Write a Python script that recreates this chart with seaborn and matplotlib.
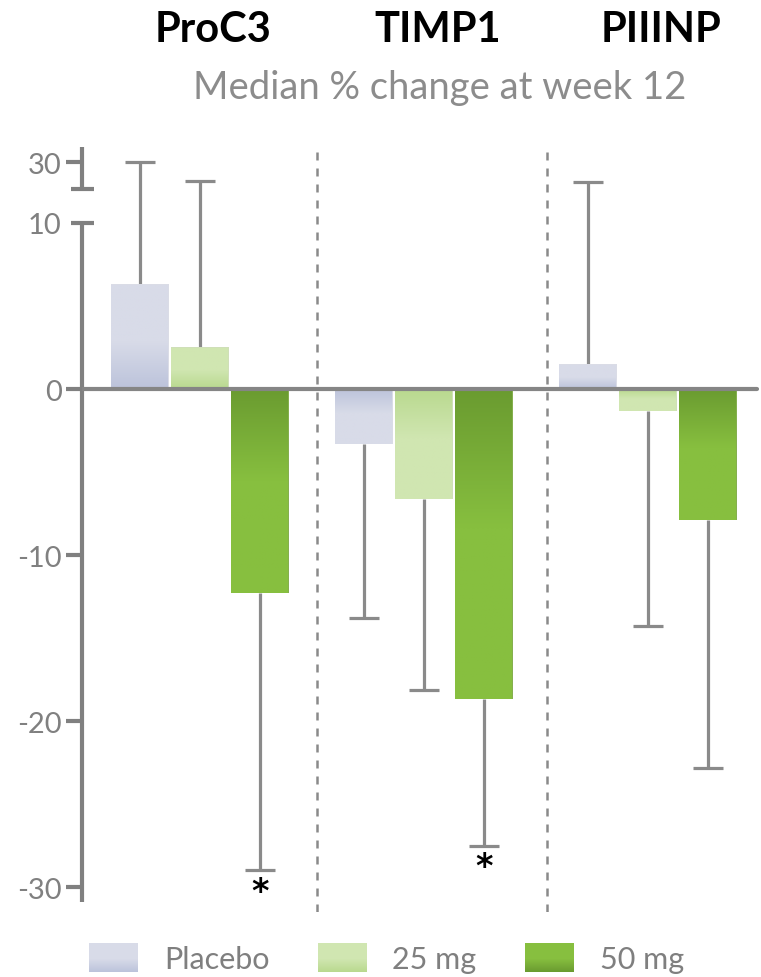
import numpy as np
import pandas as pd
import matplotlib
matplotlib.use("Agg")
import matplotlib.pyplot as plt
import matplotlib.transforms as mtransforms
from matplotlib.patches import Rectangle
from matplotlib.legend_handler import HandlerBase
from matplotlib.colors import to_rgb
import seaborn as sns

# ---- data -------------------------------------------------------------
markers = ["ProC3", "TIMP1", "PIIINP"]
doses = ["Placebo", "25 mg", "50 mg"]
# median % change at week 12 (rows: marker, columns: dose)
median_change = [
    [6.3, 2.5, -12.3],
    [-3.3, -6.6, -18.7],
    [1.5, -1.3, -7.9],
]
# outer end of the error bar for each bar
whisker_end = [
    [30.0, 28.9, -29.0],
    [-13.8, -18.1, -27.5],
    [28.8, -14.3, -22.8],
]
significant = [
    [False, False, True],
    [False, False, True],
    [False, False, False],
]
y_ticks = [-30, -20, -10, 0, 10, 30]
y_tick_labels = ["-30", "-20", "-10", "0", "10", "30"]

# ---- styling ----------------------------------------------------------
dark_colors = {"Placebo": "#bcc3db", "25 mg": "#b9d98f", "50 mg": "#6a9b30"}
light_colors = {"Placebo": "#d8dbe8", "25 mg": "#d0e6b1", "50 mg": "#87bf3f"}
GRAY = "#808080"
FONT = "Lato"

sns.set_theme(style="white")
plt.rcParams["font.family"] = [FONT, "DejaVu Sans"]

df = pd.DataFrame(
    [
        {"marker": m, "dose": d, "median": median_change[i][j],
         "whisker": whisker_end[i][j], "sig": significant[i][j]}
        for i, m in enumerate(markers) for j, d in enumerate(doses)
    ]
)

W, H = 761, 978
fig = plt.figure(figsize=(W / 100, H / 100), dpi=100)
ax = fig.add_axes([82 / W, 65 / H, 678 / W, 773 / H])

sns.barplot(
    data=df, x="marker", y="median", hue="dose", order=markers,
    hue_order=doses, palette=light_colors, errorbar=None, width=0.8,
    gap=0.03, legend=False, ax=ax, zorder=3, linewidth=0,
)

# ---- broken y scale: 10 .. 28.4 is compressed into a short gap ----------
LO, HI = 10.0, 28.4
GAP = 2.048
C = GAP / (HI - LO)


def forward(v):
    v = np.asarray(v, dtype=float)
    return np.where(v <= LO, v,
                    np.where(v < HI, LO + (v - LO) * C, LO + GAP + (v - HI)))


def inverse(d):
    d = np.asarray(d, dtype=float)
    return np.where(d <= LO, d,
                    np.where(d < LO + GAP, LO + (d - LO) / C, HI + (d - LO - GAP)))


ax.set_yscale("function", functions=(forward, inverse))
ax.set_xlim(-0.527, 2.5)
ax.set_ylim(-31.5, 31.41)


# ---- gradient fill for bars ------------------------------------------
def gradient_rgba(dose, n, reach=0.45):
    c0 = np.array(to_rgb(dark_colors[dose]))
    c1 = np.array(to_rgb(light_colors[dose]))
    t = np.clip(np.linspace(0, 1, n) / reach, 0, 1)
    return c0[None, :] + (c1 - c0)[None, :] * t[:, None]


patches = sorted(ax.patches, key=lambda p: p.get_x())
rows = df.sort_values(
    by=["marker", "dose"],
    key=lambda s: s.map({m: i for i, m in enumerate(markers)}) if s.name == "marker"
    else s.map({d: i for i, d in enumerate(doses)}),
).reset_index(drop=True)

cap_half = 0.067
for patch, (_, row) in zip(patches, rows.iterrows()):
    x0 = patch.get_x()
    w = patch.get_width()
    xc = x0 + w / 2
    val = row["median"]
    cols = gradient_rgba(row["dose"], 200)
    # index 0 sits on the zero line
    img = cols[:, None, :]
    if val >= 0:
        img = img[::-1]
        extent = [x0, x0 + w, 0, val]
    else:
        extent = [x0, x0 + w, val, 0]
    im = ax.imshow(img, extent=extent, origin="upper", aspect="auto",
                   interpolation="bilinear", zorder=3.5)
    im.set_clip_path(patch)

    # one-sided error bar, drawn outward from the bar end
    wend = row["whisker"]
    ax.vlines(xc, val, wend, color="#8a8a8a", lw=2.3, zorder=2)
    ax.hlines(wend, xc - cap_half, xc + cap_half, color="#8a8a8a", lw=2.3, zorder=2)
    if row["sig"]:
        ax.annotate("*", (xc, wend), xytext=(0, -3.5), textcoords="offset points",
                    ha="center", va="top", fontsize=24, color="black",
                    family="DejaVu Sans", fontweight="bold")

# zero line across the panel
ax.axhline(0, xmin=0, xmax=0.995, color="#858585", lw=3, zorder=5)

# group separators
for xs in [0.52, 1.55]:
    ax.vlines(xs, -31.5, 31.1, color="#8a8a8a", lw=1.8,
              linestyles=(0, (3.2, 3.2)), zorder=1)

# ---- axis -------------------------------------------------------------
for side in ["top", "right", "bottom"]:
    ax.spines[side].set_visible(False)
ax.spines["left"].set_color(GRAY)
ax.spines["left"].set_linewidth(3)
ax.spines["left"].set_bounds(-30.9, 10)
ax.spines["left"].set_capstyle("butt")

ax.set_xticks([])
ax.set_xlabel("")
ax.set_ylabel("")
ax.set_yticks(y_ticks)
ax.set_yticklabels(y_tick_labels)
ax.tick_params(axis="y", direction="out", length=11.5, width=3, color=GRAY,
               labelcolor=GRAY, labelsize=21, pad=3, left=True)
for t, v in zip(ax.yaxis.get_major_ticks(), y_ticks):
    if v == 10:
        t.tick1line.set_visible(False)

trans = mtransforms.blended_transform_factory(ax.transAxes, ax.transData)
# upper axis segment above the break
ax.plot([0, 0], [HI, 30.93], transform=trans, color=GRAY, lw=3,
        clip_on=False, solid_capstyle="butt", zorder=6)
# caps on both sides of the break
for yv in [LO, HI]:
    ax.plot([-0.0162, 0.0177], [yv, yv], transform=trans, color=GRAY, lw=3,
            clip_on=False, solid_capstyle="butt", zorder=6)

# ---- titles -----------------------------------------------------------
ttrans = mtransforms.blended_transform_factory(ax.transData, fig.transFigure)
for i, m in enumerate(markers):
    ax.text(i + 0.06, 1 - 30 / H, m, transform=ttrans, ha="center",
            va="center", fontsize=30, fontweight="bold", color="black")
fig.text(440 / W, 1 - 88 / H, "Median % change at week 12", ha="center",
         va="center", fontsize=27.5, color="#8c8c8c")


# ---- legend with gradient swatches -----------------------------------
class GradientSwatch(HandlerBase):
    def __init__(self, dose, n=30):
        super().__init__()
        self.dose = dose
        self.n = n

    def create_artists(self, legend, orig_handle, xdescent, ydescent,
                       width, height, fontsize, trans):
        cols = gradient_rgba(self.dose, self.n)
        arts = []
        sh = height / self.n
        for k in range(self.n):
            r = Rectangle((-xdescent, -ydescent + k * sh), width, sh * 1.05,
                          facecolor=cols[k], edgecolor="none", transform=trans)
            arts.append(r)
        return arts


handles = [Rectangle((0, 0), 1, 1) for _ in doses]
leg = fig.legend(
    handles, doses, loc="lower left", bbox_to_anchor=(89 / W, 4 / H),
    ncol=3, frameon=False, fontsize=22, handlelength=1.6, handleheight=1.05,
    handletextpad=0.85, columnspacing=1.58, borderpad=0, borderaxespad=0,
    handler_map={h: GradientSwatch(d) for h, d in zip(handles, doses)},
)
for txt in leg.get_texts():
    txt.set_color("#7f7f7f")

fig.savefig("out.png", dpi=100)
